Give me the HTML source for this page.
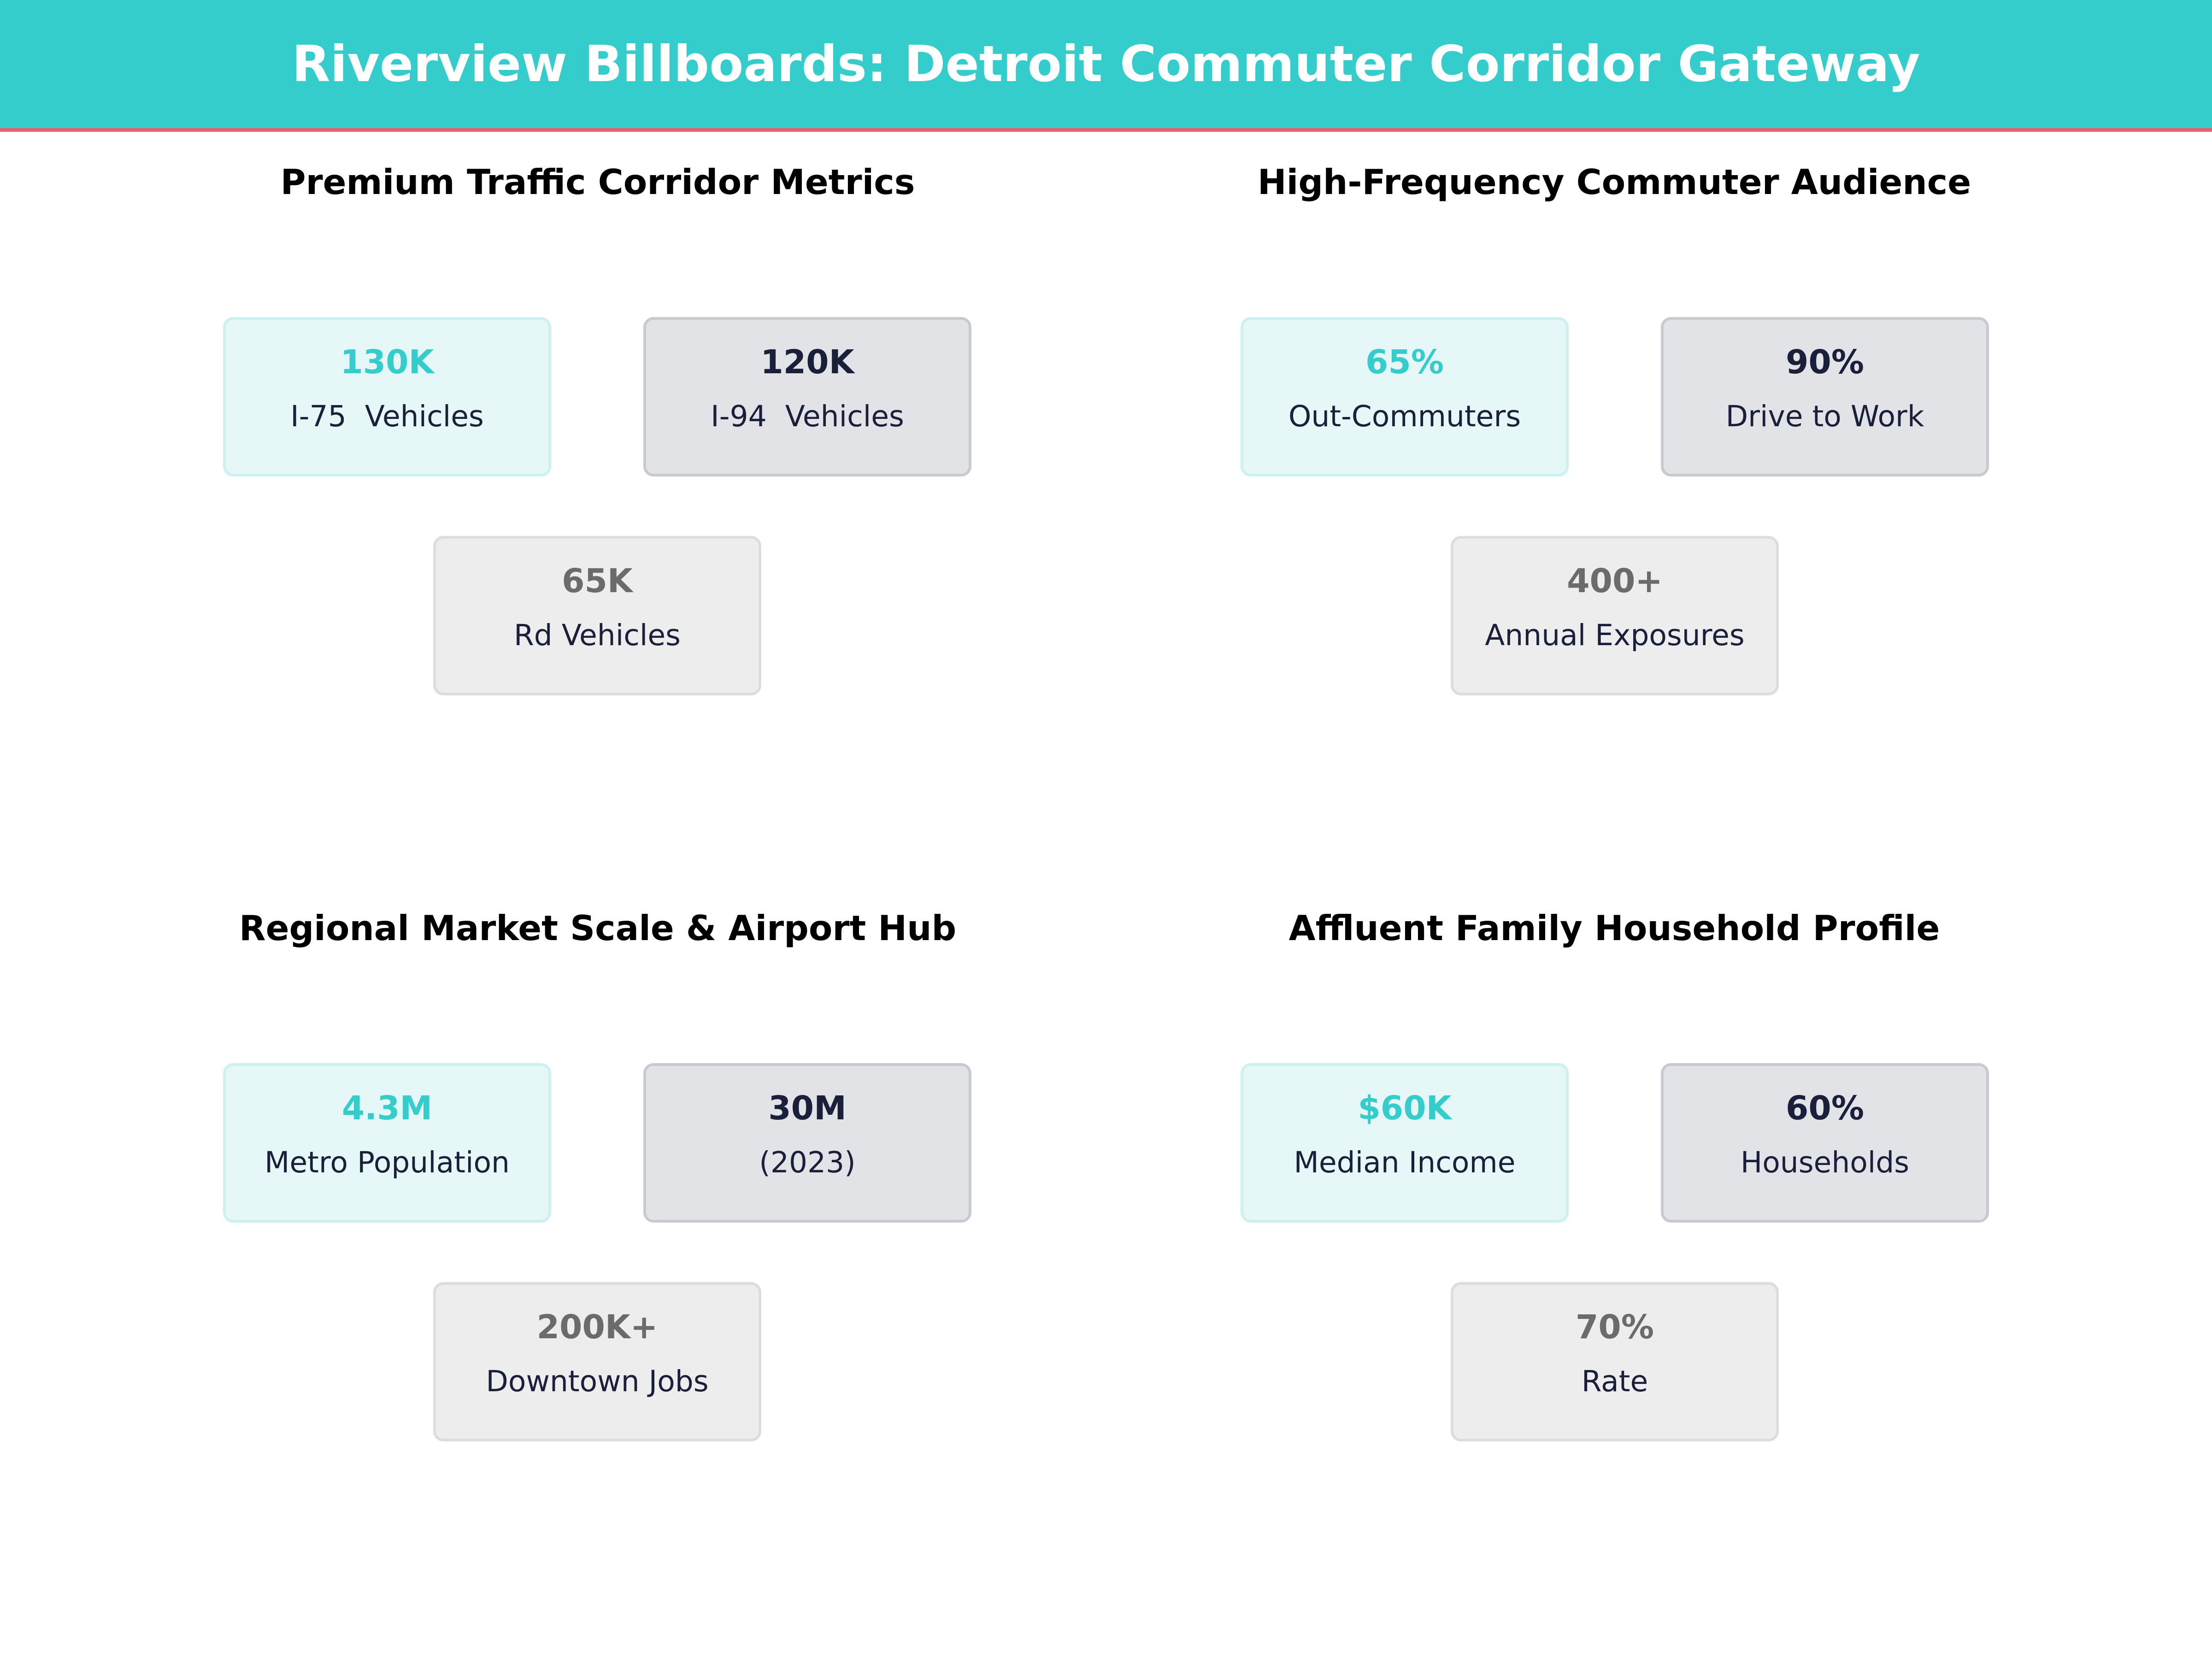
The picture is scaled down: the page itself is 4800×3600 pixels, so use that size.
<!DOCTYPE html>
<html><head><meta charset="utf-8"><style>
*{margin:0;padding:0;box-sizing:border-box}
body{width:4800px;height:3600px;background:#fff;position:relative;overflow:hidden;font-family:"DejaVu Sans","Liberation Sans",sans-serif}
.hdr{position:absolute;left:0;top:0;width:4800px;height:279px;background:#35CCCC}
.line{position:absolute;left:0;top:278px;width:4800px;height:8px;background:#E8606E}
.title{position:absolute;left:0;top:0;width:4800px;height:279px;line-height:279px;text-align:center;color:#fff;font-weight:bold;font-size:108px}
.sub{position:absolute;width:2200px;text-align:center;font-weight:bold;font-size:75px;color:#000;line-height:100px}
.box{position:absolute;width:712px;height:346px;border-radius:22px;border:6px solid}
.b1{background:#E5F7F7;border-color:#CDF0F0}
.b2{background:#E2E3E7;border-color:#C9C9D1}
.b3{background:#EDEDED;border-color:#DDDDDD}
.num{position:absolute;left:0;width:100%;top:47px;text-align:center;font-weight:bold;font-size:71px;line-height:90px}
.lab{position:absolute;left:0;width:100%;top:170px;text-align:center;font-size:63px;line-height:80px;color:#1a1f3a;white-space:pre}
.b1 .num{color:#35CCCC}.b2 .num{color:#1a1f3a}.b3 .num{color:#6b6b6b}
</style></head><body>
<div class="hdr"></div><div class="line"></div>
<div class="title">Riverview Billboards: Detroit Commuter Corridor Gateway</div>

<div class="sub" style="left:197px;top:345px">Premium Traffic Corridor Metrics</div>
<div class="sub" style="left:2403px;top:345px">High-Frequency Commuter Audience</div>
<div class="sub" style="left:197px;top:1964px">Regional Market Scale &amp; Airport Hub</div>
<div class="sub" style="left:2403px;top:1964px">Affluent Family Household Profile</div>

<div class="box b1" style="left:484px;top:688px"><div class="num">130K</div><div class="lab">I-75  Vehicles</div></div>
<div class="box b2" style="left:1396px;top:688px"><div class="num">120K</div><div class="lab">I-94  Vehicles</div></div>
<div class="box b3" style="left:940px;top:1163px"><div class="num">65K</div><div class="lab">Rd Vehicles</div></div>

<div class="box b1" style="left:2692px;top:688px"><div class="num">65%</div><div class="lab">Out-Commuters</div></div>
<div class="box b2" style="left:3604px;top:688px"><div class="num">90%</div><div class="lab">Drive to Work</div></div>
<div class="box b3" style="left:3148px;top:1163px"><div class="num">400+</div><div class="lab">Annual Exposures</div></div>

<div class="box b1" style="left:484px;top:2307px"><div class="num">4.3M</div><div class="lab">Metro Population</div></div>
<div class="box b2" style="left:1396px;top:2307px"><div class="num">30M</div><div class="lab">(2023)</div></div>
<div class="box b3" style="left:940px;top:2782px"><div class="num">200K+</div><div class="lab">Downtown Jobs</div></div>

<div class="box b1" style="left:2692px;top:2307px"><div class="num">$60K</div><div class="lab">Median Income</div></div>
<div class="box b2" style="left:3604px;top:2307px"><div class="num">60%</div><div class="lab">Households</div></div>
<div class="box b3" style="left:3148px;top:2782px"><div class="num">70%</div><div class="lab">Rate</div></div>
</body></html>
